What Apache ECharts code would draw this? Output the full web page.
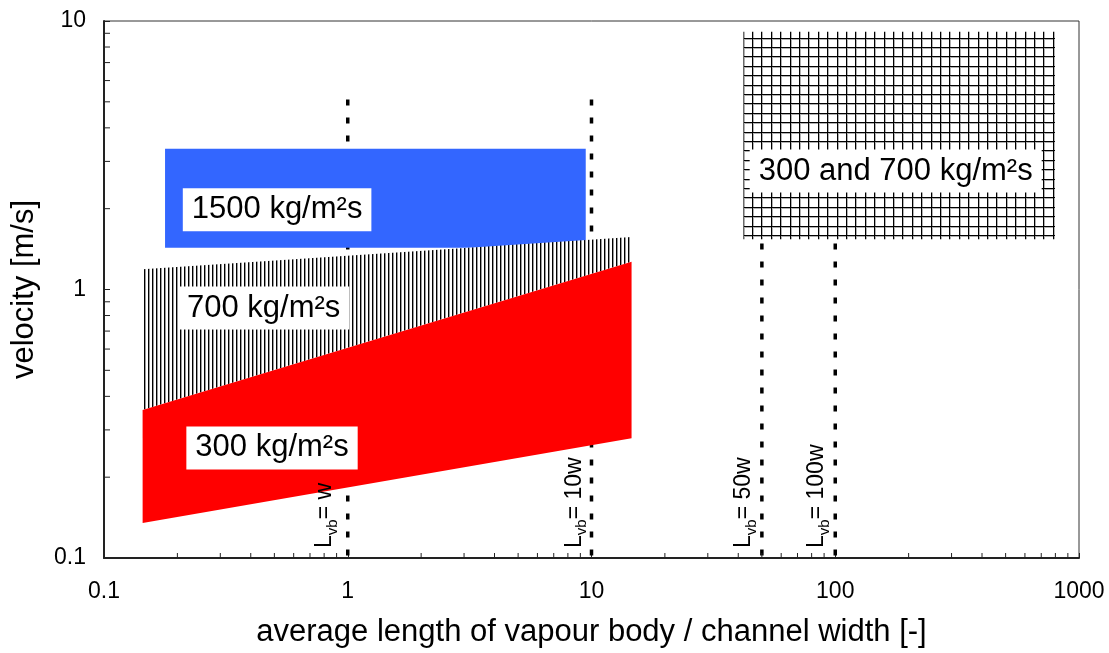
<!DOCTYPE html>
<html><head><meta charset="utf-8">
<script src="https://cdn.jsdelivr.net/npm/echarts@6/dist/echarts.min.js"></script>
<style>html,body{margin:0;padding:0;background:#fff}#c{width:1109px;height:653px}</style>
</head><body><div id="c"></div>
<script>
const FONT = "'Liberation Sans', Arial, Helvetica, sans-serif";

// ---- axis tick values ----
const xMinorTicks = [0.2,0.3,0.4,0.5,0.6,0.7,0.8,0.9, 2,3,4,5,6,7,8,9, 20,30,40,50,60,70,80,90, 200,300,400,500,600,700,800,900];
const yMinorTicks = [0.2,0.3,0.4,0.5,0.6,0.7,0.8,0.9, 2,3,4,5,6,7,8,9];

// ---- regions (x range, lower/upper velocity at the x ends) ----
const g1500X = [0.178, 9.47];
const g1500Lower = [1.43, 1.43];
const g1500Upper = [3.34, 3.34];

const g700X = [0.144, 14.6];
const g700Lower = [0.356, 1.27];
const g700Upper = [1.19, 1.57];

const g300X = [0.144, 14.6];
const g300Lower = [0.135, 0.279];
const g300Upper = [0.356, 1.27];

const gBothX = [42, 797];
const gBothLower = [1.54, 1.54];
const gBothUpper = [9.12, 9.12];

// ---- region labels ----
const regionLabels = ['1500 kg/m²s', '700 kg/m²s', '300 kg/m²s', '300 and 700 kg/m²s'];
const regionLabelX = [0.513, 0.452, 0.489, 177];
const regionLabelY = [1.98, 0.853, 0.257, 2.76];

// ---- L_vb marker lines ----
const lvbX = [1, 10, 50, 100];
const lvbTop = [5.1, 5.1, 5.1, 5.1];
const lvbBottom = [0.1, 0.1, 0.1, 0.1];
const lvbText = ['w', '10w', '50w', '100w'];
const lvbLabelX = [0.935, 9.83, 48.6, 96.9];
const lvbLabelY = [0.109, 0.109, 0.109, 0.109];

function hatchCanvas() {
  const c = document.createElement('canvas'); c.width = 4; c.height = 8;
  const g = c.getContext('2d');
  g.fillStyle = '#fff'; g.fillRect(0, 0, 4, 8);
  g.fillStyle = '#000'; g.fillRect(0, 0, 1, 8);
  g.fillStyle = '#9a9a9a'; g.fillRect(1, 0, 1, 8);
  return c;
}
function gridCanvas() {
  const n = 47; const c = document.createElement('canvas'); c.width = n; c.height = n;
  const g = c.getContext('2d');
  g.fillStyle = '#fff'; g.fillRect(0, 0, n, n);
  g.fillStyle = '#b0b0b0';
  [0, 9, 19, 28, 38].forEach(p => { g.fillRect(p + 1, 0, 1, n); g.fillRect(0, p + 1, n, 1); });
  g.fillStyle = '#000';
  [0, 9, 19, 28, 38].forEach(p => { g.fillRect(p, 0, 1, n); g.fillRect(0, p, n, 1); });
  return c;
}
const hatchFill = { image: hatchCanvas(), repeat: 'repeat' };
const gridFill = { image: gridCanvas(), repeat: 'repeat' };

function bandSeries(xs, lower, upper, fill, z) {
  return {
    type: 'custom', z: z, silent: true, animation: false,
    data: [[1, 1]],
    renderItem: function (params, api) {
      const pts = [
        api.coord([xs[0], lower[0]]), api.coord([xs[1], lower[1]]),
        api.coord([xs[1], upper[1]]), api.coord([xs[0], upper[0]])
      ];
      return { type: 'polygon', shape: { points: pts }, style: { fill: fill, stroke: null } };
    }
  };
}

const chart = echarts.init(document.getElementById('c'), null, { renderer: 'canvas' });

const series = [];
// dashed marker lines (under regions)
series.push({
  type: 'custom', z: 1, silent: true, animation: false,
  data: lvbX.map((x, i) => [x, lvbTop[i]]),
  renderItem: function (params, api) {
    const i = params.dataIndex;
    const a = api.coord([lvbX[i], lvbTop[i]]);
    const b = api.coord([lvbX[i], lvbBottom[i]]);
    return { type: 'line', shape: { x1: a[0], y1: a[1], x2: b[0], y2: b[1] },
      style: { stroke: '#000', lineWidth: 3.5, lineDash: [6, 12] } };
  }
});
series.push(bandSeries(g1500X, g1500Lower, g1500Upper, '#3366ff', 2));
series.push(bandSeries(g700X, g700Lower, g700Upper, hatchFill, 3));
series.push(bandSeries(g300X, g300Lower, g300Upper, '#ff0000', 4));
series.push(bandSeries(gBothX, gBothLower, gBothUpper, gridFill, 5));

// region labels
series.push({
  type: 'custom', z: 6, silent: true, animation: false,
  data: regionLabels.map((t, i) => [regionLabelX[i], regionLabelY[i]]),
  renderItem: function (params, api) {
    const i = params.dataIndex;
    const p = api.coord([regionLabelX[i], regionLabelY[i]]);
    return { type: 'text', x: p[0], y: p[1],
      style: { text: regionLabels[i], fontSize: 31, fontFamily: FONT, fill: '#000',
        backgroundColor: '#fff', padding: [6, 9], align: 'center', verticalAlign: 'middle' } };
  }
});

// L_vb labels (rotated)
series.push({
  type: 'custom', z: 7, silent: true, animation: false,
  data: lvbText.map((t, i) => [lvbLabelX[i], lvbLabelY[i]]),
  renderItem: function (params, api) {
    const i = params.dataIndex;
    const p = api.coord([lvbLabelX[i], lvbLabelY[i]]);
    return { type: 'text', x: p[0], y: p[1], rotation: Math.PI / 2,
      style: { text: '{n|L}{s|vb}{n|= ' + lvbText[i] + '}', fontFamily: FONT, fill: '#000',
        align: 'left', verticalAlign: 'bottom',
        rich: {
          n: { fontSize: 23, fontFamily: FONT, lineHeight: 23, verticalAlign: 'bottom', padding: [0, 0, 4, 0] },
          s: { fontSize: 15, fontFamily: FONT, lineHeight: 15, verticalAlign: 'bottom' }
        } } };
  }
});

// minor ticks
series.push({
  type: 'custom', z: 8, silent: true, animation: false,
  data: [[1, 1]],
  renderItem: function (params, api) {
    const children = [];
    xMinorTicks.forEach(v => {
      const p = api.coord([v, 0.1]);
      children.push({ type: 'line', shape: { x1: p[0], y1: p[1], x2: p[0], y2: p[1] - 5 },
        style: { stroke: '#222', lineWidth: 1 } });
    });
    yMinorTicks.forEach(v => {
      const p = api.coord([0.1, v]);
      children.push({ type: 'line', shape: { x1: p[0], y1: p[1], x2: p[0] + 6, y2: p[1] },
        style: { stroke: '#222', lineWidth: 1 } });
    });
    return { type: 'group', children: children };
  }
});

const tickFmt = v => String(+Number(v).toPrecision(6));

chart.setOption({
  animation: false,
  backgroundColor: '#fff',
  grid: { left: 104, right: 30, top: 21, bottom: 95, show: true, borderColor: '#333', borderWidth: 1,
    containLabel: false, outerBoundsMode: 'none' },
  xAxis: {
    type: 'log', logBase: 10, min: 0.1, max: 1000,
    name: 'average length of vapour body / channel width [-]', nameLocation: 'middle', nameGap: 59,
    nameTextStyle: { fontSize: 31, fontFamily: FONT, color: '#000' },
    axisLine: { show: true, lineStyle: { color: '#222', width: 2 } },
    axisTick: { show: true, inside: true, length: 5, lineStyle: { color: '#222' } },
    minorTick: { show: false },
    splitLine: { show: false },
    axisLabel: { fontSize: 23, fontFamily: FONT, color: '#000', margin: 22, formatter: tickFmt }
  },
  yAxis: {
    type: 'log', logBase: 10, min: 0.1, max: 10,
    name: 'velocity [m/s]', nameLocation: 'middle', nameGap: 64,
    nameTextStyle: { fontSize: 31, fontFamily: FONT, color: '#000' },
    axisLine: { show: true, lineStyle: { color: '#222', width: 2 } },
    axisTick: { show: true, inside: true, length: 6, lineStyle: { color: '#222' } },
    minorTick: { show: false },
    splitLine: { show: false },
    axisLabel: { fontSize: 23, fontFamily: FONT, color: '#000', margin: 18, formatter: tickFmt }
  },
  series: series
});
</script></body></html>
